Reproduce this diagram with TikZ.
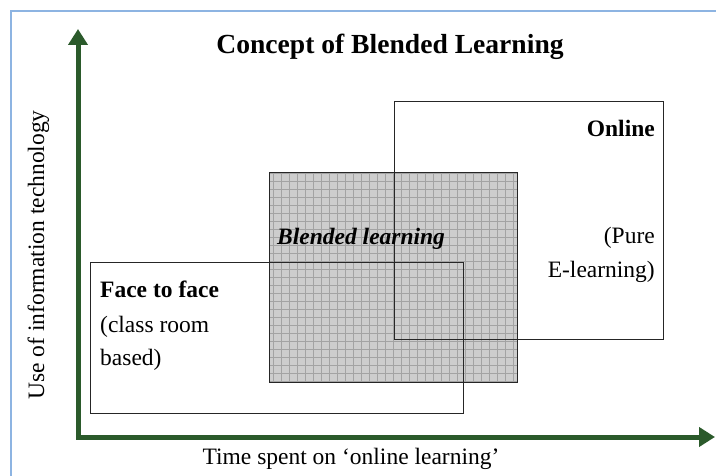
\documentclass[tikz,border=0pt]{standalone}
\usepackage{fontspec}
\setmainfont{Liberation Serif}
\usetikzlibrary{arrows.meta}
\definecolor{axisgreen}{HTML}{2B5A2B}
\definecolor{frameblue}{HTML}{8DB4E2}
\definecolor{blendfill}{HTML}{CDCDCD}
\definecolor{gridgray}{HTML}{A3A3A3}

\begin{document}
\begin{tikzpicture}[x=1pt, y=-1pt,
    area/.style={draw=black!85, line width=1.3pt, inner sep=0pt, anchor=north west},
    txt/.style={font=\fontsize{23.5}{34}\selectfont, inner sep=0pt},
    axis/.style={axisgreen, line width=5pt, line join=miter,
        {Triangle[width=19pt,length=16pt]}-{Triangle[width=19pt,length=16pt]}}]
    \useasboundingbox (0,0) rectangle (716,476);
    % frame
    \draw[frameblue, line width=1.5pt] (11,476) -- (11,11) -- (716,11);
    % Areas
    \node[area, fill=blendfill, minimum width=248pt, minimum height=210pt,
        path picture={\draw[gridgray, line width=0.6pt, step=8pt]
            (path picture bounding box.north west) grid (path picture bounding box.south east);}]
        (B) at (269,172) {};
    \node[area, minimum width=269pt, minimum height=238pt] (O) at (394,101) {};
    \node[area, minimum width=373pt, minimum height=151pt] (F) at (90,262) {};
    % Axes
    \coordinate (orig) at (78,437);
    \draw[axis] (78,29) -- (orig) -- (715,437);
    % Texts
    \node[txt, font=\bfseries\fontsize{27.6}{34}\selectfont, anchor=base] (title) at (390,54) {Concept of Blended Learning};
    \node[txt, font=\bfseries\itshape\fontsize{23.5}{34}\selectfont, anchor=base west] (blend) at (277,245) {Blended learning};
    \node[txt, font=\bfseries\fontsize{23.5}{34}\selectfont, anchor=base east] (online) at (655,137) {Online};
    \node[txt, anchor=base east] (pure) at (655,244) {(Pure};
    \node[txt, anchor=base east] (elearn) at (655,278) {E-learning)};
    \node[txt, font=\bfseries\fontsize{23.5}{34}\selectfont, anchor=base west] (face) at (100,298) {Face to face};
    \node[txt, anchor=base west] (class) at (100,332) {(class room};
    \node[txt, anchor=base west] (based) at (100,366) {based)};
    \node[txt, anchor=base] (xlab) at (351,464) {Time spent on ‘online learning’};
    \node[txt, anchor=base, rotate=90] (ylab) at (44,255) {Use of information technology};
\end{tikzpicture}
\end{document}
